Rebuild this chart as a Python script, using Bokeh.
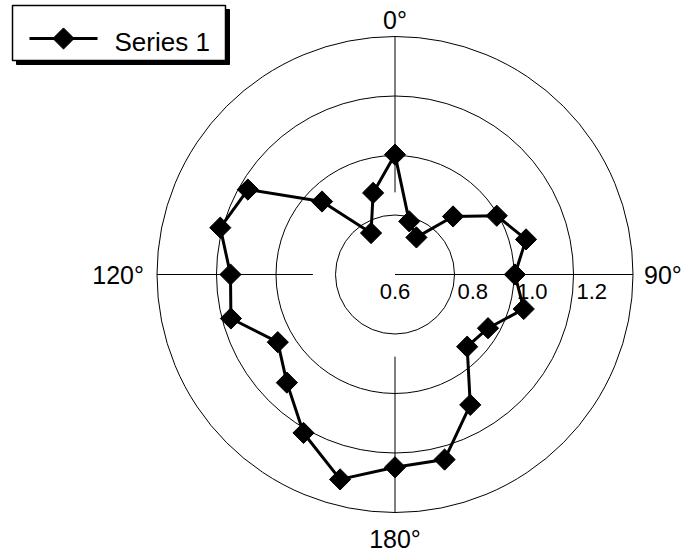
import numpy as np
from bokeh.plotting import figure
from bokeh.models import Range1d
from bokeh.core.properties import value
from bokeh.embed import file_html
from bokeh.resources import INLINE

# ---------------- data ----------------
angles_deg = [0, 15, 30, 45, 60, 75, 90, 105, 120, 135, 150, 165,
              180, 195, 210, 225, 240, 255, 270, 285, 300, 315, 330, 345]
series1 = [1.003, 0.785, 0.744, 0.876, 0.995, 1.056, 1.003, 1.048,
           0.961, 0.943, 1.106, 1.244, 1.248, 1.313, 1.215, 1.114,
           1.055, 1.171, 1.153, 1.208, 1.171, 0.947, 0.761, 0.884]
series_name = "Series 1"
r_min = 0.6
ring_values = [0.8, 1.0, 1.2, 1.4]
radial_tick_values = [0.6, 0.8, 1.0, 1.2]
radial_tick_labels = ["0.6", "0.8", "1.0", "1.2"]
spoke_angles = [0, 90, 180, 270]
spoke_inner = [0.876, 0.6, 0.876, 0.876]
angle_label_texts = ["0°", "90°", "180°", "120°"]
angle_label_angles = [0, 90, 180, 270]

# ---------------- geometry ----------------
W, H = 684, 556
K = 297.5            # px per radial unit
CX, CY = 394.5, 274  # polar centre in px (from left, from top)
FONT = value("Liberation Sans")


def polar(vals, angs):
    r = np.asarray(vals, dtype=float) - r_min
    t = np.radians(np.asarray(angs, dtype=float))
    return r * np.sin(t), r * np.cos(t)


def px(ix, iy):
    # picture pixel -> data coordinates
    return (ix - CX) / K, (CY - iy) / K


p = figure(width=W, height=H,
           x_range=Range1d(-CX / K, (W - CX) / K),
           y_range=Range1d(-(H - CY) / K, CY / K),
           output_backend="svg", toolbar_location=None,
           x_axis_type=None, y_axis_type=None,
           min_border=0, outline_line_color=None)
p.grid.visible = False
p.background_fill_color = "white"
p.border_fill_color = "white"

# rings
p.circle(x=[0] * len(ring_values), y=[0] * len(ring_values),
         radius=[v - r_min for v in ring_values],
         fill_color=None, line_color="black", line_width=1)

# spokes
x0, y0 = polar(spoke_inner, spoke_angles)
x1, y1 = polar([ring_values[-1]] * 4, spoke_angles)
p.segment(x0=x0, y0=y0, x1=x1, y1=y1, line_color="black", line_width=1)

# angle labels
offs = [17 / K, 11 / K, 26 / K, 13 / K]
lx, ly = polar([ring_values[-1] + o for o in offs], angle_label_angles)
p.text(x=lx, y=ly, text=angle_label_texts,
       text_align=["center", "left", "center", "right"],
       text_baseline="middle", text_font=FONT, text_font_size="25px",
       text_color="black")

# radial tick labels
rx = [0.0] + [v - r_min + 3 / K for v in radial_tick_values[1:]]
ry = [-17 / K] * len(radial_tick_values)
p.text(x=rx, y=ry, text=radial_tick_labels,
       text_align=["center"] + ["left"] * 3,
       text_baseline="middle", text_font=FONT, text_font_size="22px",
       text_color="black")

# series
sx, sy = polar(series1 + series1[:1], angles_deg + angles_deg[:1])
p.line(sx, sy, line_color="black", line_width=3)
mx, my = polar(series1, angles_deg)
p.scatter(mx, my, marker="square", angle=np.pi / 4, size=15,
          fill_color="black", line_color="black")

# legend (manual, with drop shadow)
sl, st = px(16, 9)
sr, sb = px(229, 64)
p.quad(left=[sl], right=[sr], top=[st], bottom=[sb],
       fill_color="black", line_color="black")
bl, bt = px(12, 5)
br, bb = px(225, 60)
p.quad(left=[bl], right=[br], top=[bt], bottom=[bb],
       fill_color="white", line_color="black", line_width=1.5)
gx0, gy = px(29, 38)
gx1, _ = px(97, 38)
gmx, _ = px(63, 38)
p.line([gx0, gx1], [gy, gy], line_color="black", line_width=3)
p.scatter([gmx], [gy], marker="square", angle=np.pi / 4, size=15,
          fill_color="black", line_color="black")
tx, ty = px(114, 41)
p.text(x=[tx], y=[ty], text=[series_name], text_align="left",
       text_baseline="middle", text_font=FONT, text_font_size="26px",
       text_color="black")

open("out.html", "w").write(file_html(p, INLINE))
